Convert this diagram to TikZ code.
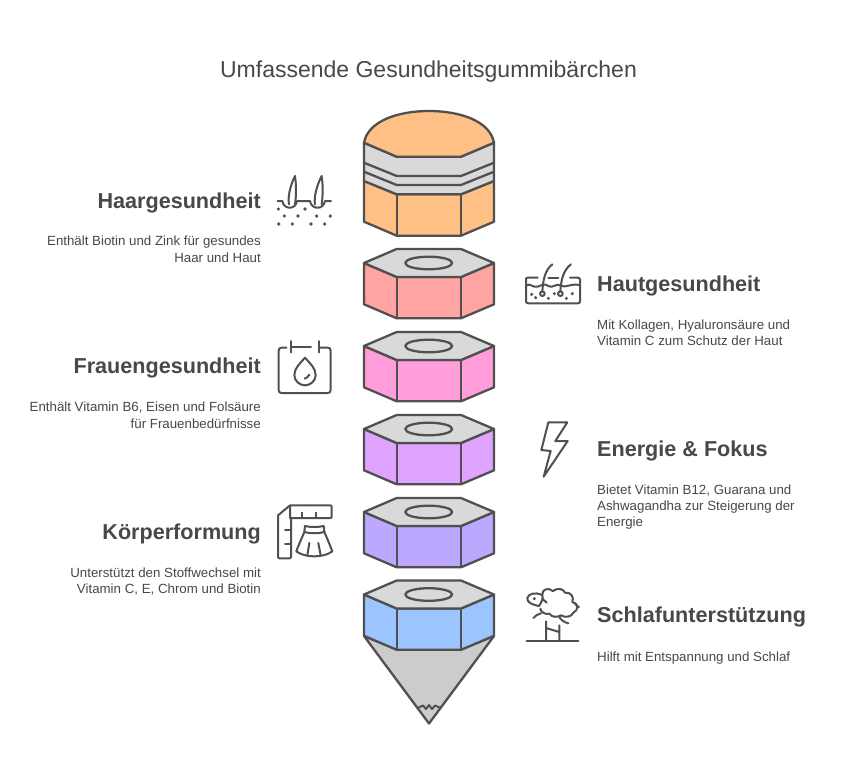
\documentclass[tikz,border=0pt]{standalone}
\usepackage{fontspec}
\setmainfont{Liberation Sans}
\definecolor{ink}{HTML}{484848}
\definecolor{edge}{HTML}{505050}
\definecolor{capg}{HTML}{D9D9D9}
\definecolor{tipg}{HTML}{CCCCCC}
\definecolor{corange}{HTML}{FFC085}
\definecolor{cred}{HTML}{FFA3A3}
\definecolor{cpink}{HTML}{FF9EDB}
\definecolor{cpurple}{HTML}{E0A3FF}
\definecolor{clav}{HTML}{BCA8FF}
\definecolor{cblue}{HTML}{9CC4FF}
\tikzset{
  shape line/.style={draw=edge,line width=2.3pt,line join=round},
  icon line/.style={draw=edge,line width=2pt,line join=round,line cap=round},
  title text/.style={text=ink,font=\fontsize{23}{27}\selectfont,anchor=base},
  head left/.style={text=ink,font=\fontsize{21.6}{26}\selectfont\bfseries,anchor=base east,inner sep=0pt},
  head right/.style={text=ink,font=\fontsize{21.6}{26}\selectfont\bfseries,anchor=base west,inner sep=0pt},
  body left/.style={text=ink,font=\fontsize{13.3}{16}\selectfont,anchor=base east,inner sep=0pt},
  body right/.style={text=ink,font=\fontsize{13.3}{16}\selectfont,anchor=base west,inner sep=0pt},
}
\newcommand{\hexnut}[2]{%
  \begin{scope}[yshift=-#1pt]
  \path[shape line,fill=#2] (364,14)--(396.7,28)--(461,28)--(494,14)--(494,55.3)--(461,69.3)--(396.7,69.3)--(364,55.3)--cycle;
  \path[shape line,fill=capg] (364,14)--(396.7,0)--(461,0)--(494,14)--(461,28)--(396.7,28)--cycle;
  \path[shape line] (396.7,28)--(396.7,69.3) (461,28)--(461,69.3);
  \path[shape line,fill=capg] (428.7,14) ellipse [x radius=23.5,y radius=6.3];
  \end{scope}}
\begin{document}
\begin{tikzpicture}[x=1pt,y=-1pt]
\useasboundingbox (0,0) rectangle (845,780);
\fill[white] (0,0) rectangle (845,780);

\node[title text] (title) at (428.5,77) {Umfassende Gesundheitsgummibärchen};

% top stack
\path[shape line,fill=corange] (364,181)--(396.7,194.3)--(461,194.3)--(494,181)--(494,221.7)--(461,235.7)--(396.7,235.7)--(364,221.7)--cycle;
\path[shape line] (396.7,194.3)--(396.7,235.7) (461,194.3)--(461,235.7);
\path[shape line,fill=capg] (364,142.7)--(396.7,156.7)--(461,156.7)--(494,142.7)--(494,181)--(461,194.3)--(396.7,194.3)--(364,181)--cycle;
\path[shape line] (364,162.7)--(396.7,176)--(461,176)--(494,162.7);
\path[shape line] (364,171.7)--(396.7,185)--(461,185)--(494,171.7);
\path[shape line,fill=corange] (364,142.7) .. controls (368,121) and (398,111) .. (429,111) .. controls (460,111) and (490,121) .. (494,142.7)--(461,156.7)--(396.7,156.7)--cycle;

\hexnut{249}{cred}
\hexnut{332}{cpink}
\hexnut{415}{cpurple}
\hexnut{498}{clav}
% tip
\path[shape line,fill=tipg] (364,636)--(396.7,649.5)--(461,649.5)--(494,636)--(429,723.5)--cycle;
\path[draw=edge,line width=2pt,line join=round] (418.5,707.5)--(423,705.5)--(426,709)--(429,705)--(432,709)--(435,705.5)--(439.5,707.5);
\hexnut{580.5}{cblue}

% texts
\node[head left] (h1) at (261,208) {Haargesundheit};
\node[body left] (b1a) at (261,245.5) {Enthält Biotin und Zink für gesundes};
\node[body left] (b1b) at (261,262) {Haar und Haut};

\node[head right] (h2) at (597,291) {Hautgesundheit};
\node[body right] (b2a) at (597,329) {Mit Kollagen, Hyaluronsäure und};
\node[body right] (b2b) at (597,345) {Vitamin C zum Schutz der Haut};

\node[head left] (h3) at (261,373.5) {Frauengesundheit};
\node[body left] (b3a) at (261,411.5) {Enthält Vitamin B6, Eisen und Folsäure};
\node[body left] (b3b) at (261,428) {für Frauenbedürfnisse};

\node[head right] (h4) at (597,456.5) {Energie \& Fokus};
\node[body right] (b4a) at (597,494.5) {Bietet Vitamin B12, Guarana und};
\node[body right] (b4b) at (597,510.5) {Ashwagandha zur Steigerung der};
\node[body right] (b4c) at (597,526.5) {Energie};

\node[head left] (h5) at (261,539.5) {Körperformung};
\node[body left] (b5a) at (261,577) {Unterstützt den Stoffwechsel mit};
\node[body left] (b5b) at (261,593.5) {Vitamin C, E, Chrom und Biotin};

\node[head right] (h6) at (597,622) {Schlafunterstützung};
\node[body right] (b6a) at (597,661) {Hilft mit Entspannung und Schlaf};

% icon: hair
\begin{scope}[shift={(265,165)},x=0.3333pt,y=-0.3333pt]
\path[icon line] (38,108)--(52,108) .. controls (56,135) and (92,135) .. (96,108)--(135,108) .. controls (139,135) and (176,135) .. (180,108)--(198,108);
\path[icon line,fill=white] (72,118) .. controls (68,95) and (76,60) .. (90,33) .. controls (94,60) and (94,90) .. (90,118);
\path[icon line,fill=white] (150,118) .. controls (146,95) and (156,60) .. (170,33) .. controls (174,60) and (174,90) .. (170,118);
\foreach \px/\py in {40/132,120/132,58/153,99/153,155/153,196/153,41/177,82/177,138/177,179/177}
  \fill[edge] (\px,\py) circle [radius=5.5];
\end{scope}

% icon: skin
\begin{scope}[shift={(515,255)},x=0.3333pt,y=-0.3333pt]
\path[icon line] (68,68)--(38,68) .. controls (33,68) and (33,70) .. (33,75)--(33,138) .. controls (33,143) and (35,145) .. (40,145)--(188,145) .. controls (193,145) and (195,143) .. (195,138)--(195,75) .. controls (195,70) and (193,68) .. (188,68)--(165,68);
\path[icon line] (100,68)--(130,68);
\path[icon line] (33,92) .. controls (45,82) and (55,100) .. (68,95) .. controls (80,90) and (90,85) .. (100,93) .. controls (112,102) and (125,82) .. (138,92) .. controls (150,100) and (165,85) .. (195,90);
\path[icon line] (82,110) .. controls (84,75) and (90,45) .. (112,28);
\path[icon line] (136,110) .. controls (138,75) and (145,45) .. (168,28);
\path[icon line] (82,116) circle [radius=7];
\path[icon line] (136,116) circle [radius=7];
\foreach \px/\py in {50/118,62/128,100/130,118/116,154/130,172/116}
  \fill[edge] (\px,\py) circle [radius=5];
\end{scope}

% icon: calendar drop
\begin{scope}[shift={(265,335)},x=0.3333pt,y=-0.3333pt]
\path[icon line] (64,38)--(50,38) .. controls (44,38) and (41,41) .. (41,47)--(41,165) .. controls (41,171) and (44,174) .. (50,174)--(188,174) .. controls (194,174) and (197,171) .. (197,165)--(197,47) .. controls (197,41) and (194,38) .. (188,38)--(162,38);
\path[icon line] (78,18)--(78,52) (162,18)--(162,52) (78,36)--(138,36);
\path[icon line] (120,68) .. controls (105,85) and (88,100) .. (88,120) .. controls (88,138) and (104,151) .. (120,151) .. controls (136,151) and (152,138) .. (152,120) .. controls (152,100) and (135,85) .. (120,68)--cycle;
\path[icon line] (119,131) .. controls (125,129) and (130,125) .. (133,119);
\end{scope}

% icon: bolt
\begin{scope}[shift={(520,415)},x=0.3333pt,y=-0.3333pt]
\path[icon line] (85,22)--(142,22)--(106,78)--(143,78)--(71,185)--(92,108)--(64,105)--cycle;
\end{scope}

% icon: ruler skirt
\begin{scope}[shift={(265,498)},x=0.3333pt,y=-0.3333pt]
\path[icon line] (75,22)--(197,22)--(200,25)--(200,57)--(197,60)--(78,60)--(78,177)--(75,181)--(42,181)--(39,177)--(39,52)--(75,22)--(75,60);
\path[icon line] (112,44)--(112,58) (154,44)--(154,58) (60,96)--(76,96) (60,137)--(76,137);
\path[icon line] (120,84) .. controls (135,88) and (160,88) .. (176,84)--(178,102) .. controls (160,107) and (135,107) .. (118,102)--cycle;
\path[icon line] (118,102) .. controls (110,122) and (100,142) .. (94,160) .. controls (120,180) and (176,180) .. (202,160) .. controls (195,142) and (187,122) .. (178,102);
\path[icon line] (133,135)--(127,172) (160,135)--(167,172);
\end{scope}

% icon: sheep
\begin{scope}[shift={(515,582)},x=0.3333pt,y=-0.3333pt]
\path[icon line] (35,178)--(190,178);
\path[icon line] (93,175)--(93,118) (93,138)--(133,150) (133,175)--(133,130);
\path[icon line] (80,38) .. controls (60,30) and (40,35) .. (37,48) .. controls (35,60) and (50,68) .. (72,72) .. controls (80,60) and (85,50) .. (82,38);
\path[icon line] (82,38) .. controls (80,22) and (100,15) .. (114,27) .. controls (125,18) and (145,18) .. (150,32) .. controls (168,30) and (178,45) .. (172,60) .. controls (190,62) and (192,85) .. (175,92) .. controls (170,105) and (150,108) .. (138,100) .. controls (125,108) and (110,105) .. (103,95) .. controls (92,98) and (78,92) .. (76,80);
\path[icon line] (180,65)--(192,76);
\path[icon line] (82,50)--(95,62);
\path[icon line] (78,94) .. controls (68,96) and (60,102) .. (55,108);
\path[icon line] (133,103) .. controls (135,112) and (145,120) .. (160,124);
\fill[edge] (58,50) circle [radius=5];
\end{scope}
\end{tikzpicture}
\end{document}
